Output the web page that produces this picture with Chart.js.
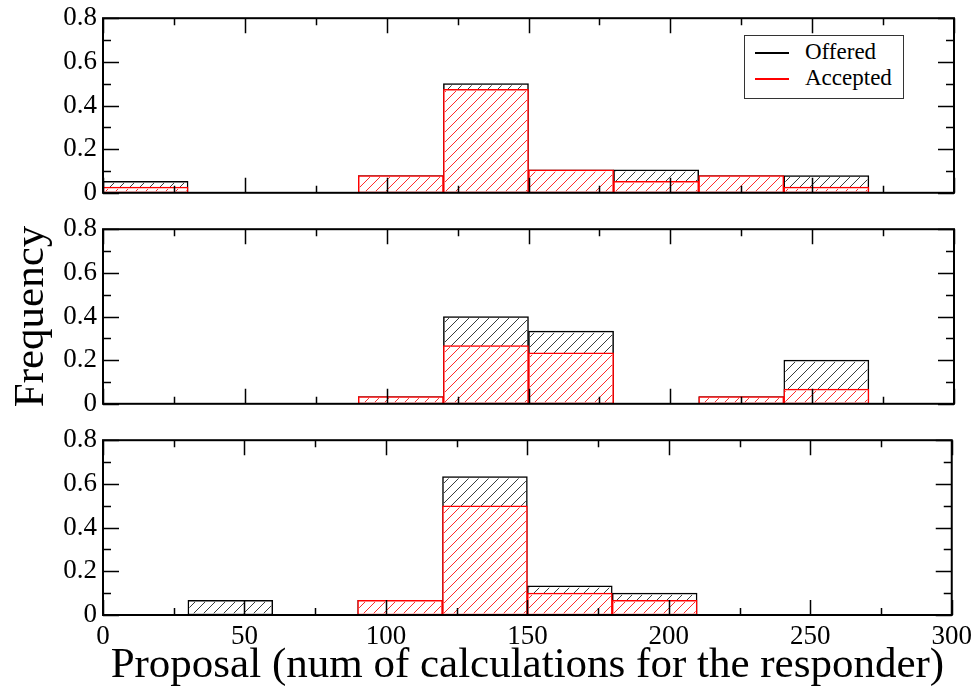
<!DOCTYPE html>
<html>
<head>
<meta charset="utf-8">
<title>Offered vs accepted proposals</title>
<script src="https://cdn.jsdelivr.net/npm/chart.js@4.4.1/dist/chart.umd.min.js"></script>
<style>
  html, body { margin: 0; padding: 0; background: #fff; }
  #wrap { position: relative; width: 978px; height: 692px; overflow: hidden; font-family: 'Liberation Serif', 'DejaVu Serif', serif; }
  #wrap canvas { position: absolute; left: 0; }
  #legend { position: absolute; left: 744px; top: 35px; width: 158px; height: 62px; border: 1.5px solid #333; background: #fff; font-size: 23px; color: #000; }
  #legend .swatch { position: absolute; left: 10px; width: 34px; border-top: 2px solid; }
  #legend .lbl { position: absolute; left: 60px; line-height: 26px; white-space: nowrap; }
</style>
</head>
<body>
<div id="wrap">
  <canvas id="panelA" width="978" height="219" style="top:-4px"></canvas>
  <canvas id="panelB" width="978" height="219" style="top:207px"></canvas>
  <canvas id="panelC" width="978" height="274" style="top:418px"></canvas>
  <div id="legend">
    <div class="swatch" style="top:16px;border-color:#000"></div>
    <div class="lbl" style="top:3px">Offered</div>
    <div class="swatch" style="top:42px;border-color:#ff0000"></div>
    <div class="lbl" style="top:29px">Accepted</div>
  </div>
</div>
<script>
// bins of width 30 (0-30, 30-60, ... 270-300), centres
const binCenters = [15, 45, 75, 105, 135, 165, 195, 225, 255, 285];

// top panel
const offeredA  = [0.053, 0, 0, 0.079, 0.5,   0.105, 0.105, 0.079, 0.079, 0];
const acceptedA = [0.026, 0, 0, 0.079, 0.474, 0.105, 0.053, 0.079, 0.026, 0];
// middle panel
const offeredB  = [0, 0, 0, 0.033, 0.4,   0.333, 0, 0.033, 0.2,   0];
const acceptedB = [0, 0, 0, 0.033, 0.267, 0.233, 0, 0.033, 0.067, 0];
// bottom panel
const offeredC  = [0, 0.067, 0, 0.067, 0.633, 0.133, 0.1,   0, 0, 0];
const acceptedC = [0, 0,     0, 0.067, 0.5,   0.1,   0.067, 0, 0, 0];

const xTickValues = [0, 50, 100, 150, 200, 250, 300];
const xMinorTicks = [25, 75, 125, 175, 225, 275];
const yTickValues = [0, 0.2, 0.4, 0.6, 0.8];
const yMinorTicks = [0.1, 0.3, 0.5, 0.7];

const xTitle = 'Proposal (num of calculations for the responder)';
const yTitle = 'Frequency';

const SERIF = "'Liberation Serif', 'DejaVu Serif', serif";
Chart.defaults.font.family = SERIF;
Chart.defaults.color = '#000';

// diagonal hatching inside each bar, painted right after its dataset
const hatchPlugin = {
    id: 'hatch',
    afterDatasetDraw(chart, args) {
        const ds = chart.data.datasets[args.index];
        const ctx = chart.ctx;
        const bw = ds.borderWidth;
        // same line phase on the page for all three panels
        const shift = ((chart.canvas.offsetTop % 10) + 10) % 10;
        ctx.save();
        ctx.strokeStyle = ds.hatchColor;
        ctx.lineWidth = 1;
        args.meta.data.forEach(bar => {
            const { x, y, base, width } = bar.getProps(['x', 'y', 'base', 'width'], true);
            const l = x - width / 2 + bw, r = x + width / 2 - bw;
            const t = Math.min(y, base) + bw, b = Math.max(y, base) - bw;
            if (b - t < 1) return;
            ctx.save();
            ctx.beginPath();
            ctx.rect(l, t, r - l, b - t);
            ctx.clip();
            ctx.beginPath();
            for (let c = Math.floor((l + t) / 10) * 10 + 7 - shift - 10; c <= r + b + 10; c += 10) {
                ctx.moveTo(c - b, b);
                ctx.lineTo(c - t, t);
            }
            ctx.stroke();
            ctx.restore();
        });
        ctx.restore();
    }
};

// box round the plot with ticks pointing inwards on all four sides
const framePlugin = {
    id: 'frame',
    afterDatasetsDraw(chart) {
        const { ctx, chartArea: a, scales: { x, y } } = chart;
        ctx.save();
        ctx.strokeStyle = '#000';
        ctx.lineWidth = 1.5;
        ctx.beginPath();
        const xt = (v, len) => {
            const p = Math.round(x.getPixelForValue(v)) + 0.5;
            ctx.moveTo(p, a.bottom); ctx.lineTo(p, a.bottom - len);
            ctx.moveTo(p, a.top); ctx.lineTo(p, a.top + len);
        };
        const yt = (v, len) => {
            const p = Math.round(y.getPixelForValue(v)) + 0.5;
            ctx.moveTo(a.left, p); ctx.lineTo(a.left + len, p);
            ctx.moveTo(a.right, p); ctx.lineTo(a.right - len, p);
        };
        xTickValues.forEach(v => xt(v, 15));
        xMinorTicks.forEach(v => xt(v, 7));
        yTickValues.forEach(v => yt(v, 16));
        yMinorTicks.forEach(v => yt(v, 8));
        ctx.stroke();
        ctx.lineWidth = 2;
        ctx.strokeRect(a.left, a.top, a.right - a.left, a.bottom - a.top);
        ctx.restore();
    }
};

function makePanel(id, offered, accepted, withXAxis, withYTitle) {
    const canvas = document.getElementById(id);
    const barStyle = { grouped: false, barPercentage: 1, categoryPercentage: 1, borderSkipped: false, borderWidth: 1.5, backgroundColor: '#ffffff' };
    return new Chart(canvas, {
        type: 'bar',
        data: {
            datasets: [
                Object.assign({
                    label: 'Offered',
                    data: binCenters.map((c, i) => ({ x: c, y: offered[i] })),
                    borderColor: '#000000',
                    hatchColor: '#3a3a3a',
                    order: 2
                }, barStyle),
                Object.assign({
                    label: 'Accepted',
                    data: binCenters.map((c, i) => ({ x: c, y: accepted[i] })),
                    borderColor: '#ff0000',
                    hatchColor: '#ff2a2a',
                    order: 1
                }, barStyle)
            ]
        },
        options: {
            responsive: false,
            animation: false,
            events: [],
            layout: { padding: { top: 22, right: 24, bottom: withXAxis ? 0 : 22, left: 0 } },
            plugins: { legend: { display: false }, tooltip: { enabled: false } },
            scales: {
                x: {
                    type: 'linear',
                    offset: false,
                    min: 0, max: 300,
                    display: withXAxis,
                    grid: { display: false, drawTicks: false, offset: false },
                    border: { display: false },
                    ticks: { padding: 6, font: { family: SERIF, size: 27 }, color: '#000', maxRotation: 0 },
                    afterBuildTicks: s => { s.ticks = xTickValues.map(v => ({ value: v })); },
                    afterFit: s => { if (withXAxis) s.height = 77; },
                    title: { display: withXAxis, text: xTitle, font: { family: SERIF, size: 43 }, color: '#000', padding: { top: 0, bottom: 0 } }
                },
                y: {
                    min: 0, max: 0.8,
                    grid: { display: false, drawTicks: false },
                    border: { display: false },
                    ticks: { padding: 6, font: { family: SERIF, size: 27 }, color: '#000' },
                    afterBuildTicks: s => { s.ticks = yTickValues.map(v => ({ value: v })); },
                    afterFit: s => { s.width = 103; },
                    title: { display: withYTitle, text: yTitle, font: { family: SERIF, size: 43 }, color: '#000', padding: { top: 6, bottom: 0 } }
                }
            }
        },
        plugins: [hatchPlugin, framePlugin]
    });
}

makePanel('panelA', offeredA, acceptedA, false, false);
makePanel('panelB', offeredB, acceptedB, false, true);
makePanel('panelC', offeredC, acceptedC, true, false);
</script>
</body>
</html>
